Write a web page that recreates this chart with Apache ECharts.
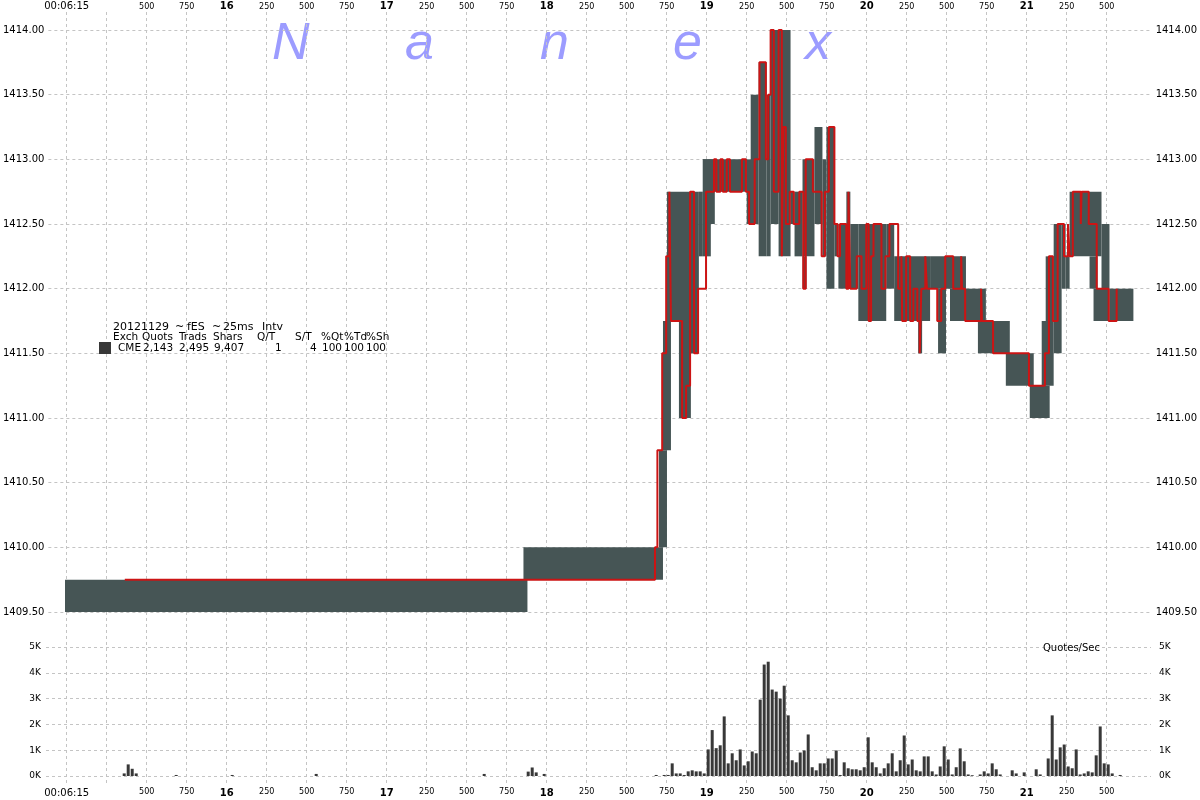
<!DOCTYPE html>
<html><head><meta charset="utf-8">
<script src="https://cdn.jsdelivr.net/npm/echarts@6/dist/echarts.min.js"></script>
<style>html,body{margin:0;padding:0;background:#fff}#c{width:1200px;height:800px}</style>
</head><body><div id="c"></div>
<script>
// ---------------- data ----------------
const BUCKET = 0.025; // 25 ms interval (seconds)
const xTickValues = [15,15.25,15.5,15.75,16,16.25,16.5,16.75,17,17.25,17.5,17.75,18,18.25,18.5,18.75,19,19.25,19.5,19.75,20,20.25,20.5,20.75,21,21.25,21.5];
const xLabelValues = [15,15.5,15.75,16,16.25,16.5,16.75,17,17.25,17.5,17.75,18,18.25,18.5,18.75,19,19.25,19.5,19.75,20,20.25,20.5,20.75,21,21.25,21.5];
const firstLabel = '00:06:15';

// quote range boxes: [tStart, tEnd, low, high]
const quoteBoxes = [
 [14.975,17.875,1409.50,1409.75],[17.85,18.725,1409.75,1410.00],[18.7,18.75,1410.00,1410.75],
 [18.725,18.775,1410.75,1411.75],[18.75,18.9,1411.75,1412.75],[18.825,18.9,1411.00,1411.75],
 [18.9,18.95,1411.50,1412.75],[18.95,18.975,1412.25,1412.75],[18.975,19.05,1412.50,1413.00],
 [18.975,19.025,1412.25,1412.50],[18.975,19.25,1412.75,1413.00],[19.25,19.3,1412.50,1413.00],
 [19.275,19.325,1412.50,1413.50],[19.325,19.375,1412.25,1413.75],[19.375,19.4,1412.25,1413.50],
 [19.4,19.45,1412.50,1414.00],[19.45,19.525,1412.25,1414.00],[19.525,19.55,1412.50,1412.75],
 [19.55,19.6,1412.25,1412.75],[19.6,19.675,1412.25,1413.00],[19.6,19.625,1412.00,1412.25],
 [19.675,19.725,1412.50,1413.25],[19.725,19.75,1412.25,1413.00],[19.75,19.8,1412.00,1413.25],
 [19.8,19.825,1412.25,1412.50],[19.825,19.875,1412.00,1412.50],[19.875,19.9,1412.00,1412.75],
 [19.9,19.95,1412.00,1412.50],[19.95,20.125,1411.75,1412.50],[20.125,20.175,1412.00,1412.50],
 [20.175,20.4,1411.75,1412.25],[20.325,20.35,1411.50,1411.75],[20.4,20.625,1412.00,1412.25],
 [20.45,20.5,1411.50,1412.00],[20.525,20.625,1411.75,1412.00],[20.625,20.75,1411.75,1412.00],
 [20.7,20.9,1411.50,1411.75],[20.875,21.05,1411.25,1411.50],[21.025,21.15,1411.00,1411.25],
 [21.1,21.175,1411.25,1411.75],[21.125,21.175,1411.75,1412.25],[21.175,21.225,1411.50,1412.50],
 [21.225,21.25,1412.00,1412.50],[21.25,21.275,1412.00,1412.25],[21.275,21.475,1412.25,1412.75],
 [21.4,21.45,1412.00,1412.25],[21.425,21.525,1411.75,1412.00],[21.475,21.525,1412.00,1412.50],
 [21.525,21.675,1411.75,1412.00]
];

// trade price steps: [t, price] (price holds until next point)
const tradeSteps = [
 [15.35,1409.75],[18.675,1410.00],[18.69,1410.75],[18.72,1411.50],[18.745,1412.25],[18.765,1412.75],
 [18.775,1411.75],[18.845,1411.00],[18.87,1411.25],[18.895,1412.75],[18.92,1411.50],[18.945,1412.00],
 [18.995,1412.75],[19.045,1413.00],[19.06,1412.75],[19.085,1413.00],[19.1,1412.75],[19.125,1413.00],
 [19.145,1412.75],[19.22,1413.00],[19.245,1412.75],[19.265,1412.50],[19.3,1413.00],[19.33,1413.75],
 [19.37,1413.00],[19.385,1413.50],[19.4,1414.00],[19.42,1412.75],[19.45,1414.00],[19.47,1412.25],
 [19.48,1413.25],[19.495,1412.50],[19.52,1412.75],[19.545,1412.50],[19.58,1412.75],[19.605,1412.00],
 [19.62,1413.00],[19.665,1412.75],[19.72,1412.25],[19.74,1412.75],[19.765,1413.25],[19.8,1412.50],
 [19.82,1412.25],[19.835,1412.50],[19.875,1412.00],[19.888,1412.75],[19.9,1412.00],[19.94,1412.25],
 [19.97,1412.00],[20.0,1412.50],[20.015,1411.75],[20.03,1412.25],[20.045,1412.50],[20.095,1412.00],
 [20.12,1412.25],[20.145,1412.50],[20.2,1412.00],[20.22,1412.25],[20.225,1411.75],[20.25,1412.25],
 [20.275,1411.75],[20.295,1412.00],[20.32,1411.75],[20.335,1411.50],[20.345,1412.00],[20.37,1412.25],
 [20.38,1412.00],[20.445,1411.75],[20.47,1412.00],[20.495,1412.25],[20.545,1412.00],[20.595,1412.25],
 [20.6,1412.00],[20.62,1411.75],[20.72,1412.00],[20.725,1411.75],[20.795,1411.50],[21.02,1411.25],
 [21.12,1411.50],[21.145,1412.25],[21.17,1411.75],[21.2,1412.50],[21.24,1412.25],[21.265,1412.50],
 [21.275,1412.25],[21.295,1412.75],[21.345,1412.50],[21.35,1412.75],[21.395,1412.50],[21.445,1412.00],
 [21.52,1411.75],[21.57,1412.00]
];

// quotes/sec per 25ms interval: sparse early part [tStart, value]
const quoteRateEarly = [[15.35,100],[15.375,450],[15.4,280],[15.425,100],[15.675,40],[16.025,40],[16.55,80],[17.6,80],[17.875,170],[17.9,330],[17.925,140],[17.975,80]];
// consecutive intervals starting at quoteRateStart
const quoteRateStart = 18.675;
const quoteRate = [
 40,0,40,40,490,100,100,40,180,220,180,180,100,1030,1780,1080,1190,2310,490,880,
 610,1030,410,570,950,880,2960,4320,4430,3350,3270,3000,3500,2350,610,530,910,990,1610,340,
 220,490,490,680,680,990,40,530,300,260,260,220,340,1500,530,340,100,300,490,880,
 180,610,1570,450,640,220,180,760,760,180,60,370,1150,640,60,340,1070,570,60,30,
 0,60,180,100,490,260,60,0,0,220,100,0,140,0,0,260,60,0,680,2350,
 640,1110,1220,370,300,1030,60,100,180,140,800,1920,490,450,100,0,40
];

const legendTitle = ['20121129','~','fES','~','25ms','Intv'];
const legendHeader = ['Exch','Quots','Trads','Shars','Q/T','S/T','%Qt','%Td','%Sh'];
const legendRow = ['CME','2,143','2,495','9,407','1','4','100','100','100'];
const watermark = ['N','a','n','e','x'];

// ---------------- layout / styles ----------------
const X_MIN = 14.8706, X_MAX = 21.7769;
const GRAY = '#465555', RED = '#cc1414', BAR = '#383838';
const FONT = 'DejaVu Sans';
const dash = {color:'#c4c4c4', type:[3,3], width:1};

const volData = quoteRateEarly.concat(quoteRate.map((v,i)=>[quoteRateStart + i*BUCKET, v])).filter(d=>d[1]>0);

function xFmt(v){
  if (Math.abs(v-15)<1e-6) return '{t|' + firstLabel + '}';
  const r = Math.round(v*1000) % 1000;
  if (r === 0) return '{b|' + Math.round(v) + '}';
  return String(r);
}
const xLabelStyle = {
  customValues: xLabelValues, formatter: xFmt, color:'#000', fontFamily: FONT, fontSize: 8,
  rich: { b:{fontFamily:FONT, fontWeight:'bold', fontSize:10, color:'#000'}, t:{fontFamily:FONT, fontSize:10, color:'#000'} }
};

const chart = echarts.init(document.getElementById('c'), null, {renderer:'canvas'});

const graphics = [];
const wmLeft = [272,405,540,673,805];
watermark.forEach((ch,i)=>graphics.push({type:'text', left:wmLeft[i], top:19, z:-10, silent:true,
  style:{text:ch, font:'italic 52px "Liberation Sans"', fill:'#9c9cff'}}));
const titleX = [113,175,187,212,223,262];
const headX = [113,142,179,213,257,295,321,344,366];
const rowX = [118,143,179,214,275,310,322,344,366];
const addWords = (words, xs, y, size) => words.forEach((w,i)=>graphics.push({type:'text', x:xs[i], y:y, z:20,
  style:{text:w, font:size + 'px "DejaVu Sans"', fill:'#000', textVerticalAlign:'middle'}}));
addWords(legendTitle, titleX, 327, 11);
addWords(legendHeader, headX, 337.5, 10.5);
addWords(legendRow, rowX, 348, 10.5);
graphics.push({type:'rect', shape:{x:99, y:342, width:12, height:12}, style:{fill:BAR}, z:20});
graphics.push({type:'text', x:1043, y:648, z:20, style:{text:'Quotes/Sec', font:'10px "DejaVu Sans"', fill:'#000', textVerticalAlign:'middle'}});

const option = {
  animation:false,
  backgroundColor:'#fff',
  graphic: graphics,
  grid:[
    {left:46, right:49, top:12, bottom:14},
    {left:46, right:49, top:30, bottom:188},
    {left:46, right:49, top:647, bottom:24}
  ],
  xAxis:[
    {gridIndex:0, type:'value', min:X_MIN, max:X_MAX, position:'top',
     axisLine:{show:false}, axisTick:{show:false, customValues:xTickValues},
     axisLabel:Object.assign({margin:1}, xLabelStyle),
     splitLine:{show:true, lineStyle:dash}},
    {gridIndex:0, type:'value', min:X_MIN, max:X_MAX, position:'bottom',
     axisLine:{show:false}, axisTick:{show:false, customValues:xTickValues},
     axisLabel:Object.assign({margin:2}, xLabelStyle),
     splitLine:{show:false}},
    {gridIndex:1, type:'value', min:X_MIN, max:X_MAX, show:false},
    {gridIndex:2, type:'value', min:X_MIN, max:X_MAX, show:false}
  ],
  yAxis:[
    {gridIndex:0, type:'value', min:0, max:1, show:false},
    {gridIndex:1, type:'value', min:1409.5, max:1414, interval:0.5, position:'left',
     axisLine:{show:false}, axisTick:{show:false},
     axisLabel:{formatter:v=>v.toFixed(2), color:'#000', fontFamily:FONT, fontSize:10, margin:4},
     splitLine:{show:true, lineStyle:dash}},
    {gridIndex:1, type:'value', min:1409.5, max:1414, interval:0.5, position:'right',
     axisLine:{show:false}, axisTick:{show:false},
     axisLabel:{formatter:v=>v.toFixed(2), color:'#000', fontFamily:FONT, fontSize:10, margin:6},
     splitLine:{show:false}},
    {gridIndex:2, type:'value', min:0, max:5000, interval:1000, position:'left',
     axisLine:{show:false}, axisTick:{show:false},
     axisLabel:{formatter:v=>(v/1000)+'K', color:'#000', fontFamily:FONT, fontSize:9, margin:5},
     splitLine:{show:true, lineStyle:dash}},
    {gridIndex:2, type:'value', min:0, max:5000, interval:1000, position:'right',
     axisLine:{show:false}, axisTick:{show:false},
     axisLabel:{formatter:v=>(v/1000)+'K', color:'#000', fontFamily:FONT, fontSize:9, margin:8},
     splitLine:{show:false}}
  ],
  series:[
    {type:'custom', xAxisIndex:2, yAxisIndex:1, z:3, data:quoteBoxes, encode:{x:[0,1], y:[2,3]},
     renderItem:(params, api)=>{
       const p0 = api.coord([api.value(0), api.value(3)]);
       const p1 = api.coord([api.value(1), api.value(2)]);
       return {type:'rect', shape:{x:p0[0], y:p0[1], width:p1[0]-p0[0], height:p1[1]-p0[1]}, style:{fill:GRAY}};
     }},
    {type:'line', xAxisIndex:2, yAxisIndex:1, z:5, data:tradeSteps, step:'end', showSymbol:false, symbol:'none',
     lineStyle:{color:RED, width:2}, itemStyle:{color:RED}},
    {type:'custom', xAxisIndex:3, yAxisIndex:3, z:3, data:volData, encode:{x:0, y:1},
     renderItem:(params, api)=>{
       const p0 = api.coord([api.value(0), api.value(1)]);
       const p1 = api.coord([api.value(0)+BUCKET, 0]);
       return {type:'rect', shape:{x:p0[0], y:p0[1], width:Math.max(1,p1[0]-p0[0]-1), height:p1[1]-p0[1]}, style:{fill:BAR}};
     }}
  ]
};
chart.setOption(option);
</script>
</body></html>
